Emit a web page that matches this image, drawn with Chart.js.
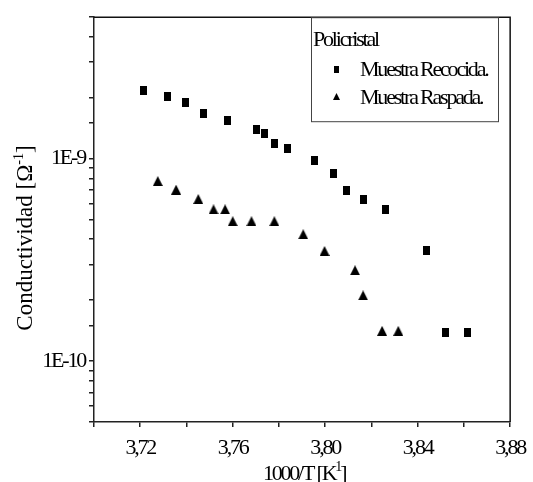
<!DOCTYPE html>
<html>
<head>
<meta charset="utf-8">
<script src="https://cdn.jsdelivr.net/npm/chart.js@4/dist/chart.umd.min.js"></script>
<style>
  html, body { margin: 0; padding: 0; background: #fff; }
</style>
</head>
<body>
<canvas id="grafico" width="533" height="482"></canvas>
<script>
// 1000/T [K^-1] y conductividad [Ohm^-1]
const recocidaX = [3.7213, 3.7319, 3.7397, 3.7472, 3.7579, 3.7704, 3.7739, 3.7780, 3.7836,
                   3.7954, 3.8035, 3.8093, 3.8166, 3.8259, 3.8437, 3.8521, 3.8617];
const recocidaY = [2.16e-9, 2.03e-9, 1.89e-9, 1.68e-9, 1.54e-9, 1.40e-9, 1.33e-9, 1.19e-9, 1.12e-9,
                   9.8e-10, 8.4e-10, 7.0e-10, 6.3e-10, 5.6e-10, 3.5e-10, 1.39e-10, 1.39e-10];

const raspadaX = [3.7276, 3.7355, 3.7451, 3.7517, 3.7567, 3.7600, 3.7681, 3.7780, 3.7905,
                  3.7997, 3.8129, 3.8164, 3.8246, 3.8316];
const raspadaY = [7.75e-10, 7.03e-10, 6.32e-10, 5.62e-10, 5.62e-10, 4.91e-10, 4.91e-10, 4.91e-10, 4.23e-10,
                  3.50e-10, 2.81e-10, 2.11e-10, 1.41e-10, 1.41e-10];

const marcasX = [3.70, 3.72, 3.74, 3.76, 3.78, 3.80, 3.82, 3.84, 3.86, 3.88];
const etiquetasX = [3.72, 3.76, 3.80, 3.84, 3.88];
const decadasY = [1e-10, 1e-9];
const etiquetasY = ['1E-10', '1E-9'];

const FUENTE = 'Liberation Serif, Times New Roman, serif';
const ESPACIO = '-2.2px';

function marcaCuadrado(w, h) {
  const c = document.createElement('canvas');
  c.width = w; c.height = h;
  const g = c.getContext('2d');
  g.fillStyle = '#000';
  g.fillRect(0, 0, w, h);
  return c;
}

function marcaTriangulo(w, h) {
  const c = document.createElement('canvas');
  c.width = w; c.height = h;
  const g = c.getContext('2d');
  g.fillStyle = '#000';
  g.beginPath();
  g.moveTo(w / 2, 0);
  g.lineTo(w, h);
  g.lineTo(0, h);
  g.closePath();
  g.fill();
  return c;
}

const cuadrado = marcaCuadrado(7, 9);
const triangulo = marcaTriangulo(10, 10);

// Chart.js no maneja letterSpacing, se fija en el contexto
const espaciado = {
  id: 'espaciado',
  beforeUpdate(chart) { chart.ctx.letterSpacing = ESPACIO; },
  beforeDraw(chart) { chart.ctx.letterSpacing = ESPACIO; }
};

const marco = {
  id: 'marco',
  afterDraw(chart) {
    const { ctx, chartArea: a } = chart;
    ctx.save();
    ctx.strokeStyle = '#111';
    ctx.lineWidth = 1.5;
    ctx.beginPath();
    ctx.moveTo(a.left, a.top);
    ctx.lineTo(a.right, a.top);
    ctx.lineTo(a.right, a.bottom);
    ctx.stroke();
    ctx.restore();
  }
};

function textoConSuper(ctx, partes, x, y, alinear) {
  // partes: [texto, esSuper]
  const anchos = partes.map(([t, s]) => {
    ctx.font = s ? `14px ${FUENTE}` : ctx._base;
    return ctx.measureText(t).width;
  });
  const total = anchos.reduce((a, b) => a + b, 0);
  let cx = alinear === 'center' ? x - total / 2 : x;
  partes.forEach(([t, s], i) => {
    ctx.font = s ? `14px ${FUENTE}` : ctx._base;
    ctx.fillText(t, cx, s ? y - 9 : y);
    cx += anchos[i];
  });
}

const titulos = {
  id: 'titulos',
  afterDraw(chart) {
    const { ctx, chartArea: a } = chart;
    ctx.save();
    ctx.fillStyle = '#000';
    ctx.textAlign = 'left';
    ctx.textBaseline = 'alphabetic';

    // eje x
    ctx.letterSpacing = ESPACIO;
    ctx._base = `22px ${FUENTE}`;
    textoConSuper(ctx, [['1000/T [K', false], ['1', true], [']', false]], (a.left + a.right) / 2 + 2, 480, 'center');

    // eje y
    ctx.letterSpacing = '0px';
    ctx._base = `23px ${FUENTE}`;
    ctx.translate(32, 238);
    ctx.rotate(-Math.PI / 2);
    textoConSuper(ctx, [['Conductividad [\u03A9', false], ['-1', true], [']', false]], 0, 0, 'center');
    ctx.restore();
  }
};

const leyendaCaja = {
  id: 'leyendaCaja',
  afterDraw(chart) {
    const ctx = chart.ctx;
    const a = chart.chartArea;
    ctx.save();
    ctx.strokeStyle = '#444';
    ctx.lineWidth = 1;
    ctx.strokeRect(311.5, a.top + 0.5, 187, 104);

    ctx.letterSpacing = ESPACIO;
    ctx.font = `22px ${FUENTE}`;
    ctx.fillStyle = '#000';
    ctx.textAlign = 'left';
    ctx.textBaseline = 'alphabetic';
    ctx.fillText('Policristal', 313, 46);

    const filas = [69, 97];
    chart.data.datasets.forEach((ds, i) => {
      const y = filas[i];
      if (ds.pointStyle === cuadrado) {
        ctx.fillRect(334, y - 3, 5, 7);
      } else {
        ctx.beginPath();
        ctx.moveTo(336.5, y - 4);
        ctx.lineTo(340, y + 3);
        ctx.lineTo(333, y + 3);
        ctx.closePath();
        ctx.fill();
      }
      ctx.fillText(ds.label, 360, y + 7);
    });
    ctx.restore();
  }
};

Chart.defaults.font.family = FUENTE;
Chart.defaults.font.size = 22;
Chart.defaults.color = '#000';

const lienzo = document.getElementById('grafico');
new Chart(lienzo, {
  type: 'scatter',
  data: {
    datasets: [
      {
        label: 'Muestra Recocida.',
        data: recocidaX.map((x, i) => ({ x, y: recocidaY[i] })),
        pointStyle: cuadrado,
        pointRadius: 4,
        backgroundColor: '#000',
        borderColor: '#000'
      },
      {
        label: 'Muestra Raspada.',
        data: raspadaX.map((x, i) => ({ x, y: raspadaY[i] })),
        pointStyle: triangulo,
        pointRadius: 4,
        backgroundColor: '#000',
        borderColor: '#000'
      }
    ]
  },
  options: {
    responsive: false,
    devicePixelRatio: 1,
    animation: false,
    layout: { padding: { top: 16, right: 17, left: 0, bottom: 0 } },
    plugins: {
      legend: { display: false },
      tooltip: { enabled: false }
    },
    scales: {
      x: {
        type: 'linear',
        min: 3.70,
        max: 3.88,
        afterBuildTicks: s => { s.ticks = marcasX.map(v => ({ value: v })); },
        afterFit: s => { s.height = 60; },
        ticks: {
          autoSkip: false,
          maxRotation: 0,
          padding: 8,
          callback: v => etiquetasX.some(e => Math.abs(e - v) < 1e-6) ? v.toFixed(2).replace('.', ',') : ''
        },
        grid: { drawOnChartArea: false, drawTicks: true, tickLength: 5, color: '#222', lineWidth: 1.5 },
        border: { display: true, color: '#222', width: 1.5 }
      },
      y: {
        type: 'logarithmic',
        min: 5e-11,
        max: 5e-9,
        afterFit: s => { s.width = 94; },
        ticks: {
          autoSkip: false,
          padding: 4,
          callback: v => {
            const i = decadasY.findIndex(d => Math.abs(v / d - 1) < 1e-6);
            return i >= 0 ? etiquetasY[i] : '';
          }
        },
        grid: { drawOnChartArea: false, drawTicks: true, tickLength: 5, color: '#222', lineWidth: 1.5 },
        border: { display: true, color: '#222', width: 1.5 }
      }
    }
  },
  plugins: [espaciado, marco, titulos, leyendaCaja]
});
</script>
</body>
</html>
